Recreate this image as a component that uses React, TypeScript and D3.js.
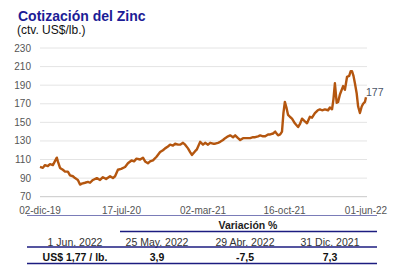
import React from "react";
import * as d3 from "d3";

const priceDates = [
  "2019-12-02","2019-12-10","2019-12-16","2019-12-24","2019-12-30","2020-01-07","2020-01-18","2020-01-21","2020-01-27","2020-02-04",
  "2020-02-10","2020-02-18","2020-02-24","2020-03-03","2020-03-09","2020-03-17","2020-03-23","2020-03-28","2020-04-06","2020-04-14",
  "2020-04-20","2020-04-28","2020-05-09","2020-05-18","2020-05-26","2020-06-04","2020-06-15","2020-06-23","2020-06-29","2020-07-07",
  "2020-07-16","2020-07-27","2020-08-04","2020-08-14","2020-08-21","2020-08-28","2020-09-07","2020-09-15","2020-09-21","2020-09-29",
  "2020-10-05","2020-10-13","2020-10-23","2020-11-02","2020-11-10","2020-11-16","2020-11-24","2020-11-30","2020-12-08","2020-12-14",
  "2020-12-22","2020-12-28","2021-01-05","2021-01-11","2021-01-19","2021-01-25","2021-01-30","2021-02-08","2021-02-13","2021-02-22",
  "2021-03-02","2021-03-08","2021-03-16","2021-03-22","2021-03-30","2021-04-05","2021-04-13","2021-04-19","2021-04-27","2021-05-03",
  "2021-05-11","2021-05-17","2021-05-25","2021-05-31","2021-06-08","2021-06-14","2021-06-22","2021-06-28","2021-07-06","2021-07-12",
  "2021-07-20","2021-07-26","2021-08-03","2021-08-09","2021-08-17","2021-08-23","2021-08-31","2021-09-06","2021-09-14","2021-09-20",
  "2021-09-28","2021-10-04","2021-10-09","2021-10-13","2021-10-17","2021-10-22","2021-10-26","2021-10-31","2021-11-06","2021-11-14",
  "2021-11-23","2021-11-28","2021-12-04","2021-12-12","2021-12-18","2021-12-26","2022-01-01","2022-01-09","2022-01-17","2022-01-23",
  "2022-01-29","2022-02-06","2022-02-15","2022-02-20","2022-02-26","2022-03-02","2022-03-06","2022-03-11","2022-03-15","2022-03-20",
  "2022-03-29","2022-04-03","2022-04-09","2022-04-15","2022-04-19","2022-04-23","2022-04-27","2022-05-01","2022-05-06","2022-05-10",
  "2022-05-15","2022-05-20","2022-05-24","2022-05-29","2022-06-01"
];
const priceValues = [
  102,101,104,103,105,104,112,108,101,99,
  97,97,93,92,90,88,83,84,85,86,
  85,88,90,88,91,89,92,90,92,99,
  100,102,106,109,108,111,110,112,108,106,
  108,109,113,118,120,122,124,126,125,127,
  126,126,128,126,122,118,115,119,121,129,
  126,128,126,128,127,127,128,129,131,133,
  135,136,134,136,133,131,133,133,133,133,
  134,134,135,136,135,135,137,137,138,140,
  136,137,140,160,172,165,158,156,154,149,
  145,148,154,151,149,156,155,160,163,164,
  163,164,163,166,164,175,192,171,172,180,
  189,185,199,200,205,205,200,192,181,167,
  160,167,170,172,177
];

const yTicks = [70, 90, 110, 130, 150, 170, 190, 210, 230];
const xTickDates = ["2019-12-02", "2020-07-17", "2021-03-02", "2021-10-16", "2022-06-01"];
const xTickLabels = ["02-dic-19", "17-jul-20", "02-mar-21", "16-oct-21", "01-jun-22"];
const lastLabel = "177";

const tableHeader = "Variación %";
const tableDates = ["1 Jun. 2022", "25 May. 2022", "29 Abr. 2022", "31 Dic. 2021"];
const tableValues = ["US$ 1,77 / lb.", "3,9", "-7,5", "7,3"];

const parse = d3.utcParse("%Y-%m-%d");

export default function App() {
  const W = 400, H = 279;
  const x = d3.scaleUtc()
    .domain([parse(priceDates[0])!, parse(priceDates[priceDates.length - 1])!])
    .range([40, 366]);
  const y = d3.scaleLinear().domain([70, 230]).range([196.7, 48]);
  const data = priceDates.map((d, i) => ({ d: parse(d)!, v: priceValues[i] }));
  const line = d3.line<{ d: Date; v: number }>().x(p => x(p.d)).y(p => y(p.v));
  const font = "'Liberation Sans', Arial, sans-serif";
  const colX = [75, 157, 245, 330];
  const last = data[data.length - 1];
  return (
    <svg width={W} height={H} style={{ position: "absolute", left: 0, top: 0, background: "#fff" }} fontFamily={font}>
      <text x={18} y={21} fontSize={14} fontWeight="bold" fill="#1c1c96">Cotización del Zinc</text>
      <text x={17} y={34} fontSize={12} fill="#111">(ctv. US$/lb.)</text>
      {yTicks.map(t => (
        <g key={t}>
          <line x1={40} x2={367} y1={y(t)} y2={y(t)} stroke={t === 70 ? "#c8c8c8" : "#e4e4e4"} strokeWidth={1} />
          <text x={31} y={y(t) + 3.5} textAnchor="end" fontSize={10} fill="#555">{t}</text>
        </g>
      ))}
      {xTickDates.map((d, i) => (
        <text key={d} x={x(parse(d)!)} y={213.5} textAnchor="middle" fontSize={10} fill="#555">{xTickLabels[i]}</text>
      ))}
      <path d={line(data)!} fill="none" stroke="#b4560f" strokeWidth={2.4} strokeLinejoin="round" />
      <text x={x(last.d)} y={y(last.v) - 1.5} fontSize={10.5} fill="#4a5566">{lastLabel}</text>
      <line x1={27} x2={377} y1={215.5} y2={215.5} stroke="#7a7cb8" strokeWidth={1.2} />
      <text x={248} y={229} textAnchor="middle" fontSize={10.5} fontWeight="bold" fill="#222">{tableHeader}</text>
      <line x1={120} x2={377} y1={231.5} y2={231.5} stroke="#1c1c80" strokeWidth={1.3} />
      {tableDates.map((t, i) => (
        <text key={t} x={colX[i]} y={245.5} textAnchor="middle" fontSize={10.5} fill="#333">{t}</text>
      ))}
      <line x1={27} x2={377} y1={247} y2={247} stroke="#1c1c80" strokeWidth={1.3} />
      {tableValues.map((t, i) => (
        <text key={t} x={colX[i]} y={261} textAnchor="middle" fontSize={10.5} fontWeight="bold" fill="#111">{t}</text>
      ))}
      <line x1={27} x2={377} y1={263.5} y2={263.5} stroke="#1c1c80" strokeWidth={1.5} />
    </svg>
  );
}
